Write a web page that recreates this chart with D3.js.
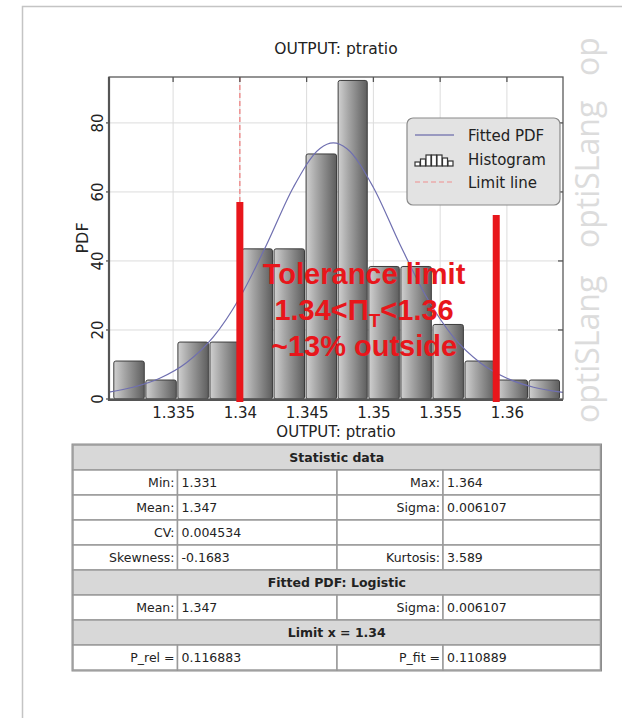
<!DOCTYPE html>
<html>
<head>
<meta charset="utf-8">
<script src="https://cdn.jsdelivr.net/npm/d3@7"></script>
<style>
  body { margin: 0; background: #fff; }
  svg text { font-family: "DejaVu Sans", Verdana, sans-serif; }
  svg text.note { font-family: "Liberation Sans", Arial, sans-serif; font-weight: bold; font-size: 29px; }
  svg text.wm { font-family: "Open Sans", "DejaVu Sans", sans-serif; font-size: 32px; }
</style>
</head>
<body>
<svg id="chart"></svg>
<script>
// histogram bins (edges) and pdf heights
var binEdges = [1.3305, 1.3329, 1.3353, 1.3377, 1.3401, 1.3425, 1.3449, 1.3473, 1.3496, 1.3520, 1.3544, 1.3568, 1.3592, 1.3616, 1.3640];
var binPdf = [11, 5.5, 16.5, 16.5, 43.5, 43.5, 71, 92.3, 38.4, 38.4, 21.6, 11, 5.5, 5.5];

// fitted pdf curve
var fitX = [1.3302, 1.332, 1.334, 1.336, 1.338, 1.340, 1.342, 1.344, 1.346, 1.347, 1.348, 1.350, 1.352, 1.354, 1.356, 1.358, 1.360, 1.362, 1.3642];
var fitY = [2.0, 3.4, 6.0, 10.5, 17.9, 29.4, 44.7, 61.3, 72.6, 74.2, 72.6, 61.3, 44.7, 29.4, 17.9, 10.5, 6.0, 3.4, 1.9];

var xTicks = [1.335, 1.34, 1.345, 1.35, 1.355, 1.36];
var yTicks = [0, 20, 40, 60, 80];

var limitX = 1.34;
// red marker bars: x position and top (pdf units)
var markX = [1.34, 1.3592];
var markTop = [57.1, 53.3];

var noteLines = ["Tolerance limit", "1.34<Π", "~13% outside"];

var tableRows = [
  { head: "Statistic data" },
  { cells: ["Min:", "1.331", "Max:", "1.364"] },
  { cells: ["Mean:", "1.347", "Sigma:", "0.006107"] },
  { cells: ["CV:", "0.004534", "", ""] },
  { cells: ["Skewness:", "-0.1683", "Kurtosis:", "3.589"] },
  { head: "Fitted PDF: Logistic" },
  { cells: ["Mean:", "1.347", "Sigma:", "0.006107"] },
  { head: "Limit x = 1.34" },
  { cells: ["P_rel =", "0.116883", "P_fit =", "0.110889"] }
];

var W = 622, H = 718;
var svg = d3.select("#chart").attr("width", W).attr("height", H);

// outer frame (left + top)
svg.append("path")
  .attr("d", "M22.5,718 L22.5,6.5 L622,6.5")
  .attr("fill", "none").attr("stroke", "#c4c4c4").attr("stroke-width", 1.5);

var L = 109, R = 563, T = 77, B = 399;
var x = d3.scaleLinear().domain([1.3302, 1.3642]).range([L, R]);
var y = d3.scaleLinear().domain([0, 93.3]).range([B, T]);

var defs = svg.append("defs");
var grad = defs.append("linearGradient").attr("id", "barGrad")
  .attr("x1", "0%").attr("x2", "100%").attr("y1", "0%").attr("y2", "0%");
grad.append("stop").attr("offset", "0%").attr("stop-color", "#d0d0d0");
grad.append("stop").attr("offset", "35%").attr("stop-color", "#a6a6a6");
grad.append("stop").attr("offset", "100%").attr("stop-color", "#5e5e5e");

// watermark
var wm = svg.append("g");
[[423, "optiSLang"], [248, "optiSLang"], [76, "op"]].forEach(function(w) {
  wm.append("text").attr("class", "wm")
    .attr("transform", "translate(599," + w[0] + ") rotate(-90)")
    .attr("fill", "#dcdcdc")
    .text(w[1]);
});

// title
svg.append("text").attr("x", (L + R) / 2).attr("y", 54)
  .attr("text-anchor", "middle").style("font-size", "15.5px").attr("fill", "#222")
  .text("OUTPUT: ptratio");

// grid
var grid = svg.append("g");
grid.selectAll(".gx").data(xTicks).enter().append("line")
  .attr("x1", d => x(d)).attr("x2", d => x(d)).attr("y1", T).attr("y2", B)
  .attr("stroke", "#dcdcdc").attr("stroke-width", 1);
grid.selectAll(".gy").data(yTicks.slice(1)).enter().append("line")
  .attr("x1", L).attr("x2", R).attr("y1", d => y(d)).attr("y2", d => y(d))
  .attr("stroke", "#dcdcdc").attr("stroke-width", 1);

// dashed limit line
svg.append("line")
  .attr("x1", x(limitX)).attr("x2", x(limitX))
  .attr("y1", T).attr("y2", y(markTop[0]))
  .attr("stroke", "#f07a7a").attr("stroke-width", 1.2).attr("stroke-dasharray", "5,3");

// histogram bars
var bins = binPdf.map((v, i) => ({ x0: binEdges[i], x1: binEdges[i + 1], v: v }));
svg.append("g").selectAll("rect").data(bins).enter().append("rect")
  .attr("x", d => x(d.x0) + 0.8)
  .attr("width", d => x(d.x1) - x(d.x0) - 1.6)
  .attr("y", d => y(d.v))
  .attr("height", d => y(0) - y(d.v))
  .attr("rx", 2)
  .attr("fill", "url(#barGrad)")
  .attr("stroke", "#3c3c3c").attr("stroke-width", 1);

// fitted pdf
var fit = fitX.map((d, i) => [d, fitY[i]]);
svg.append("path").datum(fit)
  .attr("d", d3.line().x(d => x(d[0])).y(d => y(d[1])).curve(d3.curveMonotoneX))
  .attr("fill", "none").attr("stroke", "#6f6fb0").attr("stroke-width", 1.2);

// plot frame and axes
svg.append("rect").attr("x", L).attr("y", T).attr("width", R - L).attr("height", B - T)
  .attr("fill", "none").attr("stroke", "#5a5a5a").attr("stroke-width", 1.3);
svg.append("path").attr("d", "M" + L + "," + T + " L" + L + "," + (B + 1) + " L" + R + "," + (B + 1))
  .attr("fill", "none").attr("stroke", "#555").attr("stroke-width", 2.2);

var xAxis = d3.axisBottom(x).tickValues(xTicks).tickSize(0).tickPadding(7).tickFormat(d3.format("~g"));
var gx = svg.append("g").attr("transform", "translate(0," + (B + 1) + ")").call(xAxis);
gx.select(".domain").remove();
gx.selectAll("text").style("font-size", "15px").style("font-family", "'DejaVu Sans', sans-serif").attr("fill", "#222");

// top ticks and right ticks inside
svg.append("g").selectAll("line").data(xTicks).enter().append("line")
  .attr("x1", d => x(d)).attr("x2", d => x(d)).attr("y1", T).attr("y2", T + 5)
  .attr("stroke", "#555").attr("stroke-width", 1.3);
svg.append("g").selectAll("line").data(yTicks.slice(1)).enter().append("line")
  .attr("x1", R - 5).attr("x2", R).attr("y1", d => y(d)).attr("y2", d => y(d))
  .attr("stroke", "#555").attr("stroke-width", 1.3);
svg.append("g").selectAll("line").data(yTicks).enter().append("line")
  .attr("x1", L - 3).attr("x2", L).attr("y1", d => y(d)).attr("y2", d => y(d))
  .attr("stroke", "#555").attr("stroke-width", 1.3);

// y tick labels, rotated
svg.append("g").selectAll("text").data(yTicks).enter().append("text")
  .attr("transform", d => "translate(103," + y(d) + ") rotate(-90)")
  .attr("text-anchor", "middle").style("font-size", "15px").attr("fill", "#222")
  .text(d => d);

svg.append("text").attr("transform", "translate(88,238) rotate(-90)")
  .attr("text-anchor", "middle").style("font-size", "16px").attr("fill", "#222")
  .text("PDF");

svg.append("text").attr("x", (L + R) / 2).attr("y", 437)
  .attr("text-anchor", "middle").style("font-size", "15px").attr("fill", "#222")
  .text("OUTPUT: ptratio");

// red marker bars
svg.append("g").selectAll("line").data(markX).enter().append("line")
  .attr("x1", d => x(d)).attr("x2", d => x(d))
  .attr("y1", (d, i) => y(markTop[i])).attr("y2", B + 3)
  .attr("stroke", "#e8161b").attr("stroke-width", 7);

// legend
var lg = svg.append("g");
lg.append("rect").attr("x", 407).attr("y", 118).attr("width", 153).attr("height", 87)
  .attr("rx", 6).attr("fill", "#e3e3e3").attr("stroke", "#8a8a8a").attr("stroke-width", 1.2);
lg.append("line").attr("x1", 415).attr("x2", 454).attr("y1", 135).attr("y2", 135)
  .attr("stroke", "#8080b4").attr("stroke-width", 1.4);
var icon = [4, 7, 11, 11, 11, 8, 5];
lg.selectAll(".ic").data(icon).enter().append("rect")
  .attr("x", (d, i) => 415 + i * 5.5).attr("y", d => 166 - d)
  .attr("width", 5).attr("height", d => d)
  .attr("fill", "#fff").attr("stroke", "#333").attr("stroke-width", 1.2);
lg.append("line").attr("x1", 415).attr("x2", 454).attr("y1", 182).attr("y2", 182)
  .attr("stroke", "#f09090").attr("stroke-width", 1.2).attr("stroke-dasharray", "5,3");
["Fitted PDF", "Histogram", "Limit line"].forEach(function(t, i) {
  lg.append("text").attr("x", 468).attr("y", 141 + i * 23.5)
    .style("font-size", "15px").attr("fill", "#222").text(t);
});

// annotation text
var note = svg.append("g").attr("fill", "#e8161b").attr("text-anchor", "middle");
var cx = x(1.3493);
note.append("text").attr("class", "note").attr("x", cx).attr("y", 284).text(noteLines[0]);
var t2 = note.append("text").attr("class", "note").attr("x", cx).attr("y", 320);
t2.append("tspan").text(noteLines[1]);
t2.append("tspan").attr("dy", 7).style("font-size", "19px").text("T");
t2.append("tspan").attr("dy", -7).text("<1.36");
note.append("text").attr("class", "note").attr("x", cx).attr("y", 356).text(noteLines[2]);

// table
var tL = 73, tR = 600.5, tTop = 445, rowH = 25;
var cols = [73, 177.5, 337, 443, 600.5];
var tb = svg.append("g").style("font-size", "12.5px");
tableRows.forEach(function(r, i) {
  var ry = tTop + i * rowH;
  if (r.head) {
    tb.append("rect").attr("x", tL).attr("y", ry).attr("width", tR - tL).attr("height", rowH)
      .attr("fill", "#d8d8d8").attr("stroke", "#9a9a9a").attr("stroke-width", 1.5);
    tb.append("text").attr("x", (tL + tR) / 2).attr("y", ry + rowH / 2 + 4.5)
      .attr("text-anchor", "middle").style("font-weight", "bold").attr("fill", "#222").text(r.head);
  } else {
    r.cells.forEach(function(c, j) {
      tb.append("rect").attr("x", cols[j]).attr("y", ry).attr("width", cols[j + 1] - cols[j]).attr("height", rowH)
        .attr("fill", "#fff").attr("stroke", "#9a9a9a").attr("stroke-width", 1.5);
      var lab = (j % 2 === 0);
      tb.append("text")
        .attr("x", lab ? cols[j + 1] - 3 : cols[j] + 4)
        .attr("y", ry + rowH / 2 + 4.5)
        .attr("text-anchor", lab ? "end" : "start")
        .attr("fill", "#222").text(c);
    });
  }
});
tb.append("rect").attr("x", tL - 1).attr("y", tTop - 1).attr("width", tR - tL + 2)
  .attr("height", tableRows.length * rowH + 2)
  .attr("fill", "none").attr("stroke", "#8c8c8c").attr("stroke-width", 1);
</script>
</body>
</html>
